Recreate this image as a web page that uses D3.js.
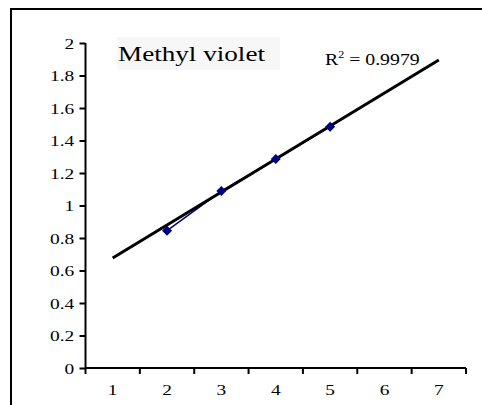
<!DOCTYPE html>
<html>
<head>
<meta charset="utf-8">
<script src="https://cdn.jsdelivr.net/npm/d3@7"></script>
<style>
  body { margin: 0; background: #fff; }
  svg { display: block; }
</style>
</head>
<body>
<div id="chart"></div>
<script>
// data
const categories = [1, 2, 3, 4, 5, 6, 7];
const pointX = [2, 3, 4, 5];
const pointY = [0.845, 1.089, 1.286, 1.485];
const trendX = [1, 7];
const trendY = [0.677, 1.895];
const yTicks = [0, 0.2, 0.4, 0.6, 0.8, 1, 1.2, 1.4, 1.6, 1.8, 2];
const title = "Methyl violet";
const r2Text = "0.9979";

const width = 482, height = 405;
const margin = { left: 85.5, top: 43, right: 16, bottom: 37 };

const svg = d3.select("#chart").append("svg")
  .attr("width", width)
  .attr("height", height);

svg.append("rect").attr("width", width).attr("height", height).attr("fill", "#fff");

// chart area border (only left + top visible)
svg.append("rect")
  .attr("x", 11).attr("y", 9)
  .attr("width", 500).attr("height", 420)
  .attr("fill", "none")
  .attr("stroke", "#000")
  .attr("stroke-width", 2);

const innerW = width - margin.left - margin.right;
const innerH = height - margin.top - margin.bottom;
const g = svg.append("g").attr("transform", `translate(${margin.left},${margin.top})`);

const x = d3.scaleBand().domain(categories).range([0, innerW]).padding(0);
const xc = (v) => x(v) + x.bandwidth() / 2;
const y = d3.scaleLinear().domain([0, 2]).range([innerH, 0]);

// y axis
const yAxis = g.append("g")
  .call(d3.axisLeft(y).tickValues(yTicks).tickSize(6).tickPadding(3).tickFormat(d3.format("")));
// x axis with ticks between categories
const xAxis = g.append("g")
  .attr("transform", `translate(0,${innerH})`)
  .call(d3.axisBottom(x).tickSize(0).tickPadding(16));
xAxis.selectAll(".tick line").remove();
xAxis.selectAll("line.cat")
  .data(categories.concat([null]))
  .join("line")
  .attr("class", "cat")
  .attr("x1", (d, i) => i * x.bandwidth())
  .attr("x2", (d, i) => i * x.bandwidth())
  .attr("y1", 0).attr("y2", 6)
  .attr("stroke", "#000").attr("stroke-width", 2);

[yAxis, xAxis].forEach(a => {
  a.attr("font-family", "'Liberation Serif', 'Times New Roman', serif");
  a.select(".domain").attr("stroke", "#000").attr("stroke-width", 2);
  a.selectAll(".tick line").attr("stroke", "#000").attr("stroke-width", 2);
  a.selectAll(".tick text")
    .attr("fill", "#000")
    .style("font-family", "'Liberation Serif', 'Times New Roman', serif")
    .style("font-size", "15.5px");
});
yAxis.selectAll(".tick text").attr("dy", "0.35em")
  .attr("transform", "scale(1.25,1)");
xAxis.selectAll(".tick text").attr("dy", "0.71em")
  .attr("transform", "scale(1.25,1)")
  .attr("x", 0)
  .attr("text-anchor", "middle");
yAxis.select(".domain").attr("d", `M0,${innerH}V0`);
xAxis.select(".domain").attr("d", `M0,0H${innerW}`);

// data series line
const pts = pointX.map((v, i) => [xc(v), y(pointY[i])]);
g.append("path")
  .attr("d", d3.line()(pts))
  .attr("fill", "none")
  .attr("stroke", "#000080")
  .attr("stroke-width", 1.5);

// trendline
g.append("path")
  .attr("d", d3.line()(trendX.map((v, i) => [xc(v), y(trendY[i])])))
  .attr("fill", "none")
  .attr("stroke", "#000")
  .attr("stroke-width", 3);

// diamond markers
g.selectAll("path.pt")
  .data(pts)
  .join("path")
  .attr("class", "pt")
  .attr("transform", d => `translate(${d[0]},${d[1]})`)
  .attr("d", d3.symbol(d3.symbolDiamond2, 64)())
  .attr("fill", "#000080");

// title box
svg.append("rect")
  .attr("x", 117).attr("y", 37)
  .attr("width", 163).attr("height", 33)
  .attr("fill", "#f7f7f7");
svg.append("text")
  .attr("x", 118).attr("y", 61)
  .attr("textLength", 147)
  .attr("lengthAdjust", "spacingAndGlyphs")
  .style("font-family", "'Liberation Serif', 'Times New Roman', serif")
  .style("font-size", "22px")
  .attr("fill", "#000")
  .text(title);

// R² label
const r2 = svg.append("g")
  .attr("transform", "translate(325,65) scale(1.2,1)")
  .append("text")
  .style("font-family", "'Liberation Serif', 'Times New Roman', serif")
  .style("font-size", "16.5px")
  .attr("fill", "#000");
r2.append("tspan").text("R");
r2.append("tspan").attr("dy", -7).style("font-size", "10px").text("2");
r2.append("tspan").attr("dy", 7).text(" = " + r2Text);
</script>
</body>
</html>
